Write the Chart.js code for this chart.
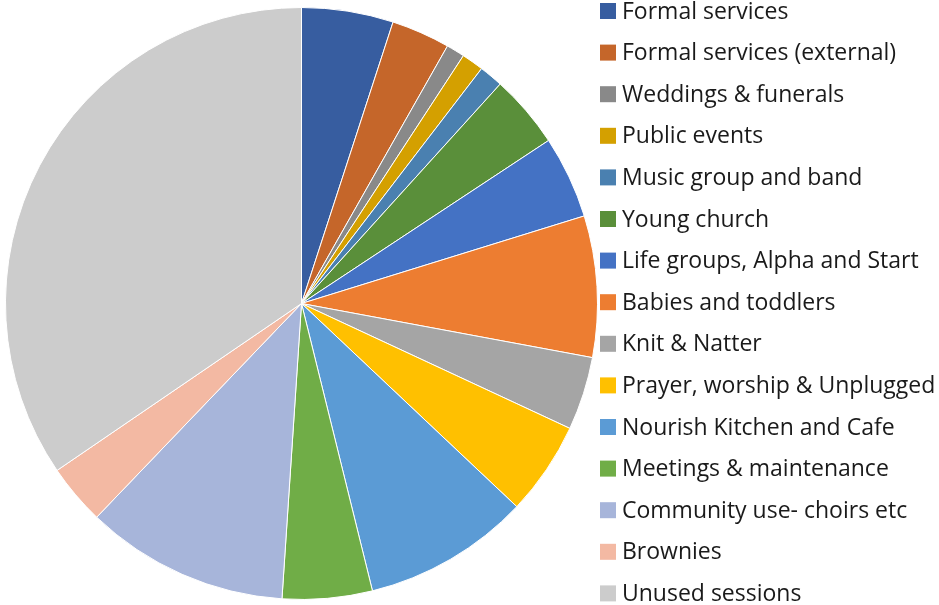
<!DOCTYPE html>
<html>
<head>
<meta charset="utf-8">
<script src="https://cdn.jsdelivr.net/npm/chart.js@4/dist/chart.umd.min.js"></script>
<style>
  html, body { margin: 0; padding: 0; background: #fff; }
  .wrap { width: 939px; height: 605px; position: relative; }
</style>
</head>
<body>
<div class="wrap"><canvas id="usage"></canvas></div>
<script>
// share of sessions by activity (percent)
const categories = [
  'Formal services', 'Formal services (external)', 'Weddings & funerals', 'Public events',
  'Music group and band', 'Young church', 'Life groups, Alpha and Start', 'Babies and toddlers',
  'Knit & Natter', 'Prayer, worship & Unplugged', 'Nourish Kitchen and Cafe',
  'Meetings & maintenance', 'Community use- choirs etc', 'Brownies', 'Unused sessions'
];
const shares = [5.0, 3.2, 1.0, 1.2, 1.3, 4.0, 4.5, 7.7, 4.0, 5.1, 9.1, 4.9, 11.1, 3.3, 34.5];
const sliceColors = [
  '#375DA0', '#C5662A', '#898989', '#D4A000', '#4A80B0', '#5A8F3A',
  '#4472C4', '#ED7D31', '#A5A5A5', '#FFC000', '#5B9BD5', '#70AD47',
  '#A7B5DA', '#F3B9A3', '#CCCCCC'
];

const legendFont = '23px "Open Sans", sans-serif';

// legend drawn in one column down the right edge, like the spreadsheet export
const sideLegend = {
  id: 'sideLegend',
  afterDraw(chart) {
    const { ctx } = chart;
    const meta = chart.getDatasetMeta(0);
    ctx.save();
    ctx.font = legendFont;
    ctx.textBaseline = 'middle';
    chart.data.labels.forEach((label, i) => {
      const y = 11 + i * 41.6;
      ctx.fillStyle = meta.data[i].options.backgroundColor;
      ctx.fillRect(600, y - 8, 16, 16);
      ctx.fillStyle = '#1a1a1a';
      ctx.fillText(label, 622, y + 1);
    });
    ctx.restore();
  }
};

new Chart(document.getElementById('usage'), {
  type: 'pie',
  data: {
    labels: categories,
    datasets: [{ data: shares, backgroundColor: sliceColors, borderColor: '#ffffff', borderWidth: 1 }]
  },
  options: {
    responsive: true,
    maintainAspectRatio: false,
    animation: false,
    layout: { padding: { left: 5, right: 341, top: 7, bottom: 5 } },
    plugins: { legend: { display: false }, tooltip: { enabled: false } }
  },
  plugins: [sideLegend]
});
</script>
</body>
</html>
